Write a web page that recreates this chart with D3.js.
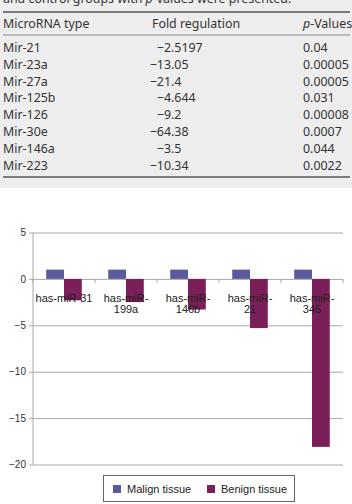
<!DOCTYPE html>
<html>
<head>
<meta charset="utf-8">
<script src="https://cdn.jsdelivr.net/npm/d3@7"></script>
<style>
  body { margin: 0; background: #fff; }
  svg { display: block; }
</style>
</head>
<body>
<div id="chart"></div>
<script>
// table data (top part)
var tableTypes = ["Mir-21", "Mir-23a", "Mir-27a", "Mir-125b", "Mir-126", "Mir-30e", "Mir-146a", "Mir-223"];
var tableFold = [-2.5197, -13.05, -21.4, -4.644, -9.2, -64.38, -3.5, -10.34];
var tablePValues = ["0.04", "0.00005", "0.00005", "0.031", "0.00008", "0.0007", "0.044", "0.0022"];

// bar chart data
var categories = ["has-miR-31", "has-miR-199a", "has-miR-146b", "has-miR-21", "has-miR-345"];
var categoryLines = [["has-miR-31"], ["has-miR-", "199a"], ["has-miR-", "146b"], ["has-miR-", "21"], ["has-miR-", "345"]];
var malign = [1, 1, 1, 1, 1];
var benign = [-2.3, -2.5, -3.3, -5.3, -18.1];
var seriesNames = ["Malign tissue", "Benign tissue"];
var yTicks = [5, 0, -5, -10, -15, -20];

var W = 352, H = 504;
var colors = ["#5b5a9c", "#7a1f58"];

var svg = d3.select("#chart").append("svg")
    .attr("width", W)
    .attr("height", H);

// ---- table ----
var tbl = svg.append("g").attr("class", "table")
    .style("font-family", "'Noto Sans', sans-serif")
    .style("font-size", "12.4px")
    .attr("fill", "#333");

tbl.append("rect").attr("x", 0).attr("y", 0).attr("width", W).attr("height", 188).attr("fill", "#eeeeee");

// caption, cut off at the top edge as in the source
var cap = tbl.append("text").attr("x", 3).attr("y", 3);
cap.append("tspan").text("and control groups with ");
cap.append("tspan").style("font-style", "italic").text("p");
cap.append("tspan").text("-values were presented.");

tbl.append("line").attr("x1", 3).attr("x2", 350).attr("y1", 12).attr("y2", 12).attr("stroke", "#555").attr("stroke-width", 1.5);
tbl.append("line").attr("x1", 3).attr("x2", 350).attr("y1", 35).attr("y2", 35).attr("stroke", "#888").attr("stroke-width", 1);
tbl.append("line").attr("x1", 3).attr("x2", 350).attr("y1", 177).attr("y2", 177).attr("stroke", "#555").attr("stroke-width", 1.5);

var colX = [3, 152, 303], decX = 171;
tbl.append("text").attr("x", colX[0]).attr("y", 28).text("MicroRNA type");
tbl.append("text").attr("x", colX[1]).attr("y", 28).text("Fold regulation");
var ph = tbl.append("text").attr("x", colX[2]).attr("y", 28);
ph.append("tspan").style("font-style", "italic").text("p");
ph.append("tspan").text("-Values");

var rowY = d3.scaleLinear().domain([0, 7]).range([52, 169.5]);

var rows = tbl.selectAll(".row")
    .data(tableTypes)
    .enter()
    .append("g")
    .attr("class", "row")
    .attr("transform", function(d, i) { return "translate(0," + rowY(i) + ")"; });

rows.append("text").attr("x", colX[0]).text(function(d) { return d; });
rows.append("text").attr("x", decX).attr("text-anchor", "end")
    .text(function(d, i) { return String(tableFold[i]).replace("-", "\u2212").split(".")[0]; });
rows.append("text").attr("x", decX)
    .text(function(d, i) { var p = String(tableFold[i]).split("."); return p.length > 1 ? "." + p[1] : ""; });
rows.append("text").attr("x", colX[2]).text(function(d, i) { return tablePValues[i]; });

// ---- bar chart ----
var m = { left: 33, right: 9, top: 232.5, bottom: 39.5 };
var plotW = W - m.left - m.right;
var plotTop = m.top, plotBottom = H - m.bottom;

var x = d3.scaleBand().domain(categories).range([m.left, m.left + plotW]).paddingInner(0.43).paddingOuter(0.2);
var xOuter = d3.scaleBand().domain(categories).range([m.left, m.left + plotW]);
var xs = d3.scaleBand().domain([0, 1]).range([0, x.bandwidth()]);
var y = d3.scaleLinear().domain([-20, 5]).range([plotBottom, plotTop]);

var chart = svg.append("g")
    .style("font-family", "'Liberation Sans', Arial, sans-serif");

// gridlines
chart.append("g")
    .attr("transform", "translate(" + m.left + ",0)")
    .call(d3.axisLeft(y).tickValues(yTicks).tickSize(-plotW).tickFormat(""))
    .call(function(g) { g.select(".domain").remove(); })
    .selectAll("line").attr("stroke", "#a8a8a8");

// y axis
var yAxis = chart.append("g")
    .attr("transform", "translate(" + m.left + ",0)")
    .call(d3.axisLeft(y).tickValues(yTicks).tickSize(4).tickPadding(3));
yAxis.select(".domain").attr("stroke", "#a8a8a8").attr("d", "M0," + plotTop + "V" + plotBottom);
yAxis.selectAll(".tick line").attr("stroke", "#a8a8a8");
yAxis.selectAll(".tick text").attr("fill", "#333").style("font-size", "10px").style("font-family", "'Liberation Sans', Arial, sans-serif");

// x axis ticks at category boundaries on zero line
var bounds = categories.map(function(c) { return xOuter(c); }).concat([m.left + plotW]);
chart.append("g").selectAll("line")
    .data(bounds)
    .enter()
    .append("line")
    .attr("x1", function(d) { return d; })
    .attr("x2", function(d) { return d; })
    .attr("y1", y(0))
    .attr("y2", y(0) + 4)
    .attr("stroke", "#a8a8a8");

// bars
var groups = chart.selectAll(".grp")
    .data(categories)
    .enter()
    .append("g")
    .attr("class", "grp")
    .attr("transform", function(d) { return "translate(" + (xOuter(d) + (xOuter.bandwidth() - x.bandwidth()) / 2) + ",0)"; });

groups.append("rect")
    .attr("x", xs(0))
    .attr("width", xs.bandwidth())
    .attr("y", function(d, i) { return y(Math.max(0, malign[i])); })
    .attr("height", function(d, i) { return Math.abs(y(malign[i]) - y(0)); })
    .attr("fill", colors[0]);

groups.append("rect")
    .attr("x", xs(1))
    .attr("width", xs.bandwidth())
    .attr("y", function(d, i) { return y(Math.max(0, benign[i])); })
    .attr("height", function(d, i) { return Math.abs(y(benign[i]) - y(0)); })
    .attr("fill", colors[1]);

// category labels (drawn over bars)
chart.selectAll(".cat")
    .data(categories)
    .enter()
    .append("text")
    .attr("class", "cat")
    .attr("text-anchor", "middle")
    .attr("fill", "#222")
    .style("font-size", "11px")
    .attr("transform", function(d) { return "translate(" + (xOuter(d) + xOuter.bandwidth() / 2) + "," + (y(0) + 23) + ")"; })
    .each(function(d, i) {
        var t = d3.select(this);
        categoryLines[i].forEach(function(line, k) {
            t.append("tspan").attr("x", 0).attr("y", k * 11.5).text(line);
        });
    });

// legend
var lg = chart.append("g").attr("transform", "translate(103,475)");
lg.append("rect").attr("x", 0.5).attr("y", 0.5).attr("width", 191).attr("height", 26)
    .attr("fill", "#fff").attr("stroke", "#666");
var items = lg.selectAll(".item")
    .data(seriesNames)
    .enter()
    .append("g")
    .attr("transform", function(d, i) { return "translate(" + (10 + i * 94) + ",0)"; });
items.append("rect").attr("x", 0).attr("y", 10).attr("width", 8).attr("height", 8)
    .attr("fill", function(d, i) { return colors[i]; });
items.append("text").attr("x", 14).attr("y", 18).attr("fill", "#222").style("font-size", "11px")
    .text(function(d) { return d; });
</script>
</body>
</html>
